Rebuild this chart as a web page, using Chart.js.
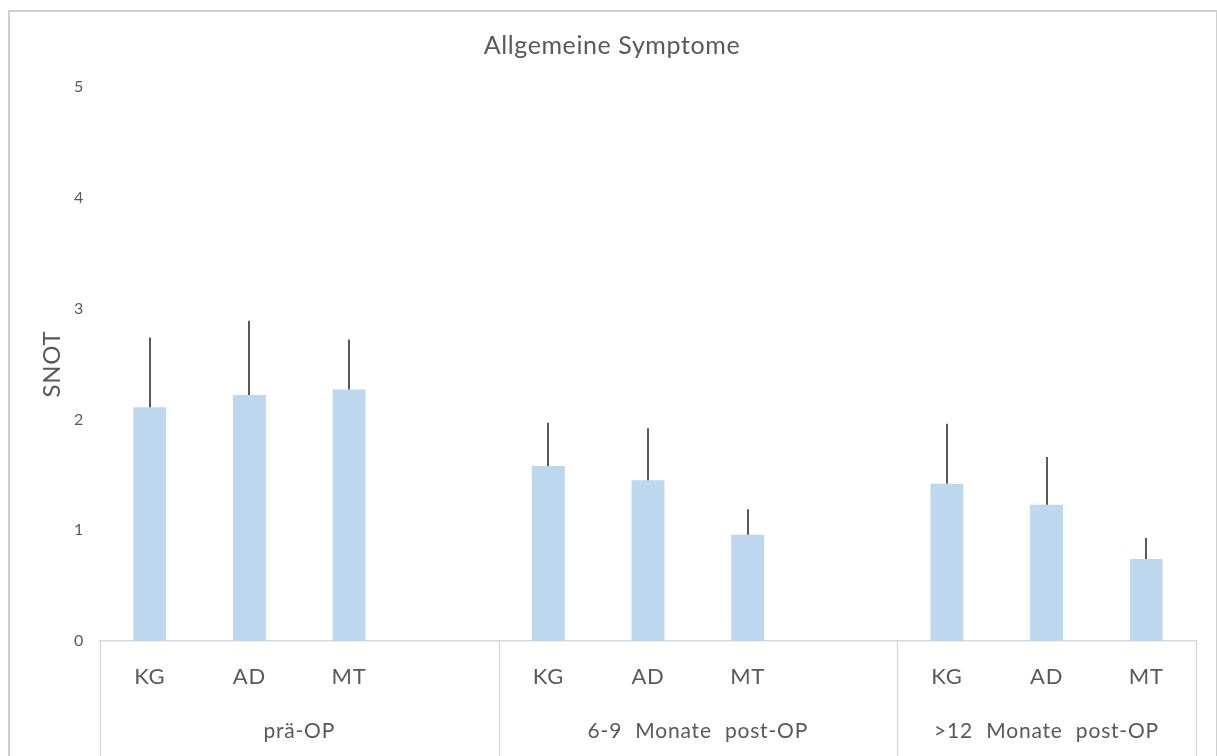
<!DOCTYPE html>
<html>
<head>
<meta charset="utf-8">
<script src="https://cdn.jsdelivr.net/npm/chart.js@4/dist/chart.umd.min.js"></script>
<style>
	html, body { margin: 0; padding: 0; background: #fff; }
	#frame { position: absolute; left: 8px; top: 10px; width: 1209px; height: 760px; border: 2px solid #cfcfcf; border-right-width: 1px; box-sizing: border-box; }
	#wrap { position: absolute; left: 0; top: 0; width: 1217px; height: 756px; }
</style>
</head>
<body>
<div id="frame"></div>
<div id="wrap"><canvas id="c" width="1217" height="756"></canvas></div>
<script>
// Allgemeine Symptome: SNOT means with upper SD whiskers, grouped by time point.
const categories = ['KG', 'AD', 'MT', '', 'KG', 'AD', 'MT', '', 'KG', 'AD', 'MT'];
const groups = ['prä-OP', '6-9 Monate post-OP', '>12 Monate post-OP'];
const groupSlots = [4, 4, 3];
const means = [2.11, 2.22, 2.27, null, 1.58, 1.45, 0.96, null, 1.42, 1.23, 0.74];
const sdUpper = [0.63, 0.67, 0.45, null, 0.39, 0.47, 0.23, null, 0.54, 0.43, 0.19];
const yTicks = [0, 1, 2, 3, 4, 5];
const chartTitle = 'Allgemeine Symptome';

const FONT = 'Lato, "Open Sans", sans-serif';
const COLORS = {
	bar: '#bdd7ee',
	whisker: '#595959',
	text: '#595959',
	axis: '#d9d9d9',
};

// the source text is set a little loose
const spacing = {
	id: 'spacing',
	beforeDraw(chart) { chart.ctx.letterSpacing = '0.8px'; },
};

// title is centred on the whole frame, not on the chart box
const frameTitle = {
	id: 'frameTitle',
	afterDraw(chart) {
		const { ctx } = chart;
		ctx.save();
		ctx.fillStyle = COLORS.text;
		ctx.font = '25px ' + FONT;
		ctx.letterSpacing = '0.6px';
		ctx.textAlign = 'center';
		ctx.textBaseline = 'middle';
		ctx.fillText(chartTitle, 612, 46);
		ctx.restore();
	},
};

// upper error whiskers, no caps
const whiskers = {
	id: 'whiskers',
	afterDatasetsDraw(chart) {
		const { ctx } = chart;
		const y = chart.scales.y;
		const meta = chart.getDatasetMeta(0);
		ctx.save();
		ctx.strokeStyle = COLORS.whisker;
		ctx.lineWidth = 2;
		means.forEach((m, i) => {
			if (m == null) return;
			const x = Math.round(meta.data[i].x);
			ctx.beginPath();
			ctx.moveTo(x, y.getPixelForValue(m));
			ctx.lineTo(x, y.getPixelForValue(m + sdUpper[i]));
			ctx.stroke();
		});
		ctx.restore();
	},
};

// group separators and group labels under the category ticks
const groupAxis = {
	id: 'groupAxis',
	afterDraw(chart) {
		const { ctx } = chart;
		const x = chart.scales.x;
		const slot = (x.right - x.left) / categories.length;
		const top = chart.chartArea.bottom;
		ctx.save();
		ctx.strokeStyle = COLORS.axis;
		ctx.lineWidth = 1.5;
		ctx.fillStyle = COLORS.text;
		ctx.font = '21px ' + FONT;
		ctx.letterSpacing = '0.8px';
		ctx.wordSpacing = '7px';
		ctx.textAlign = 'center';
		ctx.textBaseline = 'middle';
		let start = 0;
		const edges = [x.left];
		groupSlots.forEach((n, g) => {
			const l = x.left + start * slot;
			const r = x.left + (start + n) * slot;
			edges.push(r);
			ctx.fillText(groups[g], (l + r) / 2, top + 90);
			start += n;
		});
		edges.forEach(px => {
			ctx.beginPath();
			ctx.moveTo(Math.round(px) + 0.5, top);
			ctx.lineTo(Math.round(px) + 0.5, chart.height);
			ctx.stroke();
		});
		ctx.restore();
	},
};

new Chart(document.getElementById('c'), {
	type: 'bar',
	data: {
		labels: categories,
		datasets: [{
			data: means,
			backgroundColor: COLORS.bar,
			borderWidth: 0,
			categoryPercentage: 1,
			barPercentage: 0.33,
		}],
	},
	options: {
		responsive: false,
		animation: false,
		layout: { padding: { left: 0, right: 21, top: 87, bottom: 0 } },
		plugins: {
			legend: { display: false },
			tooltip: { enabled: false },
			title: { display: false },
		},
		scales: {
			x: {
				grid: { display: false, drawTicks: false },
				border: { color: COLORS.axis, width: 1.5 },
				ticks: { color: COLORS.text, font: { family: FONT, size: 22 }, padding: 23, autoSkip: false, maxRotation: 0 },
				afterFit(scale) { scale.height = 115; },
			},
			y: {
				min: 0,
				max: 5,
				afterBuildTicks(scale) { scale.ticks = yTicks.map(v => ({ value: v })); },
				grid: { display: false, drawTicks: false },
				border: { display: false },
				ticks: { color: COLORS.text, font: { family: FONT, size: 16 }, padding: 16 },
				title: {
					display: true,
					text: 'SNOT',
					color: COLORS.text,
					font: { family: FONT, size: 24 },
					padding: { top: 37.6, bottom: 0 },
				},
				afterFit(scale) { scale.width = 100; },
			},
		},
	},
	plugins: [spacing, whiskers, groupAxis, frameTitle],
});
</script>
</body>
</html>
